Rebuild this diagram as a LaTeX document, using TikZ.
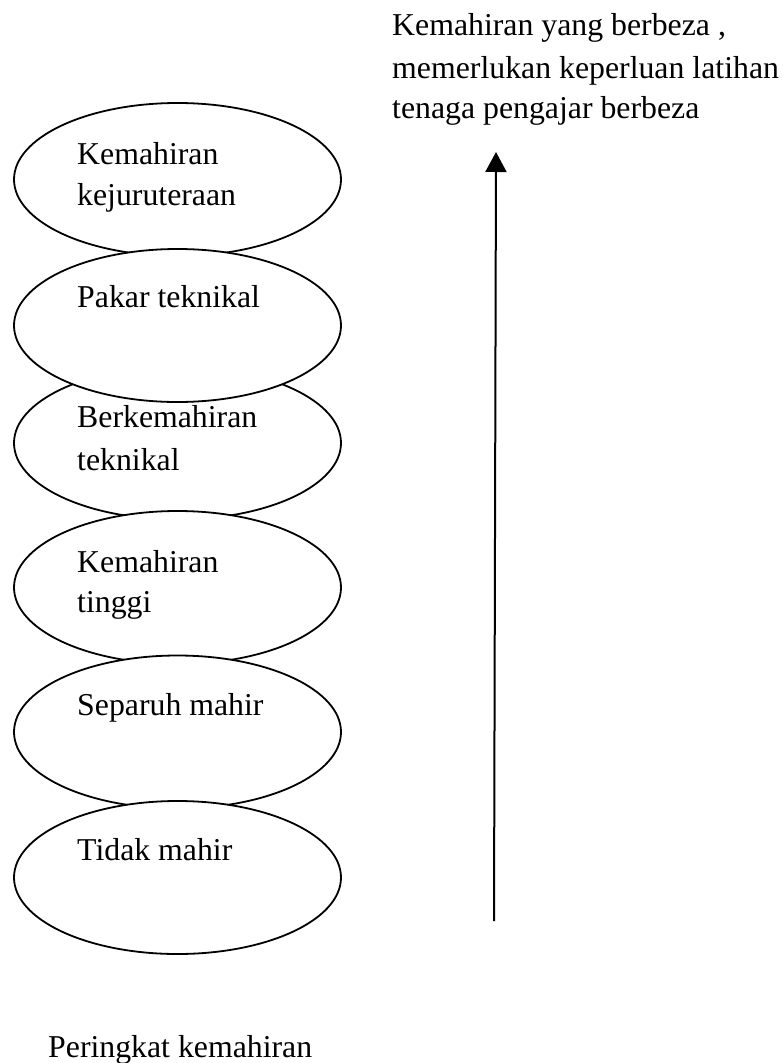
\documentclass[tikz,border=0pt]{standalone}
\usepackage{fontspec}
\setmainfont{Liberation Serif}
\usetikzlibrary{shapes.geometric,arrows.meta}
\begin{document}
\begin{tikzpicture}[x=1pt,y=-1pt,
  level/.style={ellipse,draw=black,line width=1.8pt,fill=white,minimum width=327pt,minimum height=153pt,inner sep=0pt},
  lbl/.style={anchor=base west,inner sep=0pt,font=\fontsize{31.8}{41}\selectfont},
  arrowline/.style={line width=2pt,-{Triangle[length=20pt,width=21pt]}}]
\useasboundingbox (0,0) rectangle (782,1063);
\node[level] (e1) at (177.5,179.5) {};
\node[level] (e3) at (177.5,443) {};
\node[level] (e2) at (177.5,325.5) {};
\node[level] (e4) at (177.5,587.5) {};
\node[level] (e5) at (177.5,732) {};
\node[level] (e6) at (177.5,877.5) {};
\node[lbl] (t1a) at (77,164) {Kemahiran};
\node[lbl] (t1b) at (77,205) {kejuruteraan};
\node[lbl] (t2) at (77,307) {Pakar teknikal};
\node[lbl] (t3a) at (77,427) {Berkemahiran};
\node[lbl] (t3b) at (77,470) {teknikal};
\node[lbl] (t4a) at (77,572) {Kemahiran};
\node[lbl] (t4b) at (77,612) {tinggi};
\node[lbl] (t5) at (77,715) {Separuh mahir};
\node[lbl] (t6) at (77,860) {Tidak mahir};
\node[lbl] (r1) at (392,35) {Kemahiran yang berbeza ,};
\node[lbl] (r2) at (392,78) {memerlukan keperluan latihan};
\node[lbl] (r3) at (392,118) {tenaga pengajar berbeza};
\node[lbl] (bt) at (48,1057) {Peringkat kemahiran};
\coordinate (abot) at (494,921);
\coordinate (atop) at (496,152);
\draw[arrowline] (abot) -- (atop);
\end{tikzpicture}
\end{document}
